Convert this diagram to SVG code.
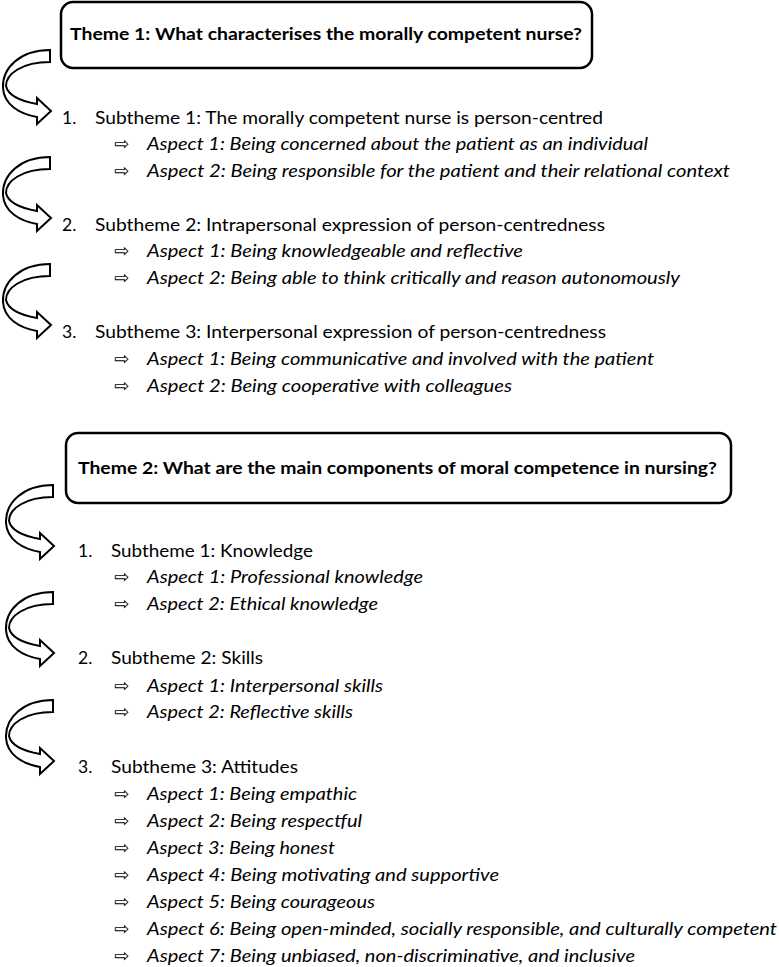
<svg xmlns="http://www.w3.org/2000/svg" xmlns:xlink="http://www.w3.org/1999/xlink" width="779" height="967" viewBox="0 0 779 967">
<style>
.box{fill:#fff;stroke:#000;stroke-width:2.5}
.arr{fill:#fff;stroke:#000;stroke-width:2;stroke-linejoin:miter}
.t{font-family:Lato,"Liberation Sans",sans-serif;font-size:17.5px;fill:#000}
.th{font-weight:bold}
.a{font-style:italic}
.b{font-family:"DejaVu Sans",sans-serif;font-size:18px;fill:#000}
</style>
<defs>
<path id="carrow" class="arr" d="M0,0 C-30,0 -48,18 -47,38 C-46,55 -30,64 -13,67 L-13,74 L1,61 L-13,48 L-13,54 C-30,51 -42,45 -44,36 C-44,24 -28,12 0,12 Z"/>
</defs>
<rect width="779" height="967" fill="#fff"/>
<g id="connectors">
<use xlink:href="#carrow" href="#carrow" x="50" y="50"/>
<use xlink:href="#carrow" href="#carrow" x="50" y="157"/>
<use xlink:href="#carrow" href="#carrow" x="50" y="264"/>
<use xlink:href="#carrow" href="#carrow" x="53" y="485"/>
<use xlink:href="#carrow" href="#carrow" x="53" y="592"/>
<use xlink:href="#carrow" href="#carrow" x="53" y="700"/>
</g>
<g id="theme1">
<rect class="box" x="61" y="2" width="531" height="66" rx="12"/>
<text class="t th" x="70" y="40" textLength="512" lengthAdjust="spacingAndGlyphs">Theme 1: What characterises the morally competent nurse?</text>
</g>
<g id="t1-sub1">
<text class="t" x="62" y="124">1.</text>
<text class="t" x="95" y="124" textLength="508" lengthAdjust="spacingAndGlyphs">Subtheme 1: The morally competent nurse is person-centred</text>
<text class="b" x="114" y="150">⇨</text>
<text class="t a" x="147" y="150" textLength="501" lengthAdjust="spacingAndGlyphs">Aspect 1: Being concerned about the patient as an individual</text>
<text class="b" x="114" y="177">⇨</text>
<text class="t a" x="147" y="177" textLength="583" lengthAdjust="spacingAndGlyphs">Aspect 2: Being responsible for the patient and their relational context</text>
</g>
<g id="t1-sub2">
<text class="t" x="62" y="231">2.</text>
<text class="t" x="95" y="231" textLength="510" lengthAdjust="spacingAndGlyphs">Subtheme 2: Intrapersonal expression of person-centredness</text>
<text class="b" x="114" y="257">⇨</text>
<text class="t a" x="147" y="257" textLength="376" lengthAdjust="spacingAndGlyphs">Aspect 1: Being knowledgeable and reflective</text>
<text class="b" x="114" y="284">⇨</text>
<text class="t a" x="147" y="284" textLength="533" lengthAdjust="spacingAndGlyphs">Aspect 2: Being able to think critically and reason autonomously</text>
</g>
<g id="t1-sub3">
<text class="t" x="62" y="338">3.</text>
<text class="t" x="95" y="338" textLength="511" lengthAdjust="spacingAndGlyphs">Subtheme 3: Interpersonal expression of person-centredness</text>
<text class="b" x="114" y="365">⇨</text>
<text class="t a" x="147" y="365" textLength="507" lengthAdjust="spacingAndGlyphs">Aspect 1: Being communicative and involved with the patient</text>
<text class="b" x="114" y="392">⇨</text>
<text class="t a" x="147" y="392" textLength="365" lengthAdjust="spacingAndGlyphs">Aspect 2: Being cooperative with colleagues</text>
</g>
<g id="theme2">
<rect class="box" x="66" y="433" width="665" height="70" rx="12"/>
<text class="t th" x="78" y="474" textLength="639" lengthAdjust="spacingAndGlyphs">Theme 2: What are the main components of moral competence in nursing?</text>
</g>
<g id="t2-sub1">
<text class="t" x="78" y="557">1.</text>
<text class="t" x="111" y="557" textLength="202" lengthAdjust="spacingAndGlyphs">Subtheme 1: Knowledge</text>
<text class="b" x="114" y="583">⇨</text>
<text class="t a" x="147" y="583" textLength="276" lengthAdjust="spacingAndGlyphs">Aspect 1: Professional knowledge</text>
<text class="b" x="114" y="610">⇨</text>
<text class="t a" x="147" y="610" textLength="231" lengthAdjust="spacingAndGlyphs">Aspect 2: Ethical knowledge</text>
</g>
<g id="t2-sub2">
<text class="t" x="78" y="664">2.</text>
<text class="t" x="111" y="664" textLength="152" lengthAdjust="spacingAndGlyphs">Subtheme 2: Skills</text>
<text class="b" x="114" y="692">⇨</text>
<text class="t a" x="147" y="692" textLength="236" lengthAdjust="spacingAndGlyphs">Aspect 1: Interpersonal skills</text>
<text class="b" x="114" y="718">⇨</text>
<text class="t a" x="147" y="718" textLength="206" lengthAdjust="spacingAndGlyphs">Aspect 2: Reflective skills</text>
</g>
<g id="t2-sub3">
<text class="t" x="78" y="773">3.</text>
<text class="t" x="111" y="773" textLength="187" lengthAdjust="spacingAndGlyphs">Subtheme 3: Attitudes</text>
<text class="b" x="114" y="800">⇨</text>
<text class="t a" x="147" y="800" textLength="210" lengthAdjust="spacingAndGlyphs">Aspect 1: Being empathic</text>
<text class="b" x="114" y="827">⇨</text>
<text class="t a" x="147" y="827" textLength="215" lengthAdjust="spacingAndGlyphs">Aspect 2: Being respectful</text>
<text class="b" x="114" y="854">⇨</text>
<text class="t a" x="147" y="854" textLength="188" lengthAdjust="spacingAndGlyphs">Aspect 3: Being honest</text>
<text class="b" x="114" y="881">⇨</text>
<text class="t a" x="147" y="881" textLength="352" lengthAdjust="spacingAndGlyphs">Aspect 4: Being motivating and supportive</text>
<text class="b" x="114" y="908">⇨</text>
<text class="t a" x="147" y="908" textLength="228" lengthAdjust="spacingAndGlyphs">Aspect 5: Being courageous</text>
<text class="b" x="114" y="935">⇨</text>
<text class="t a" x="147" y="935" textLength="630" lengthAdjust="spacingAndGlyphs">Aspect 6: Being open-minded, socially responsible, and culturally competent</text>
<text class="b" x="114" y="962">⇨</text>
<text class="t a" x="147" y="962" textLength="488" lengthAdjust="spacingAndGlyphs">Aspect 7: Being unbiased, non-discriminative, and inclusive</text>
</g>
</svg>
